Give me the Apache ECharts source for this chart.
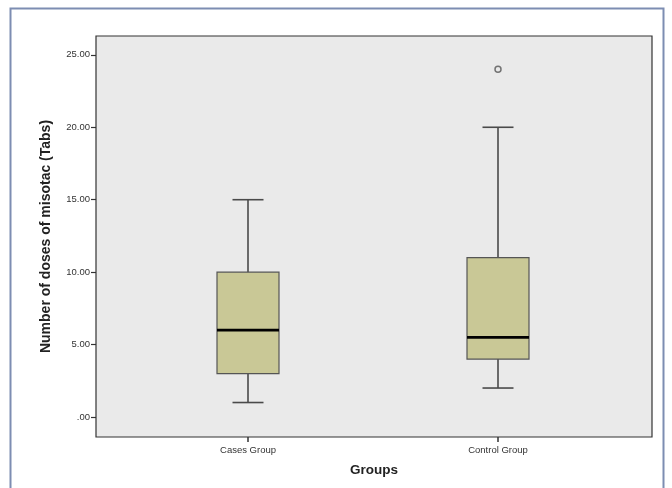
<!DOCTYPE html>
<html>
<head>
<meta charset="utf-8">
<script src="https://cdn.jsdelivr.net/npm/echarts@6/dist/echarts.min.js"></script>
<style>html,body{margin:0;padding:0;background:#fff;}#c{width:672px;height:488px;}</style>
</head>
<body>
<div id="c"></div>
<script>
var categories = ['Cases Group', 'Control Group'];
var whiskerLow = [1, 2];
var q1 = [3, 4];
var median = [6, 5.5];
var q3 = [10, 11];
var whiskerHigh = [15, 20];
var outliers = [[1, 24]];
var yTicks = [0, 5, 10, 15, 20, 25];

var boxData = categories.map(function (c, i) {
  return [i, whiskerLow[i], q1[i], median[i], q3[i], whiskerHigh[i]];
});

var Y_MIN = -1.38, Y_MAX = 26.3;
var FONT = 'Arial, "Liberation Sans", sans-serif';

function renderBox(params, api) {
  var i = api.value(0);
  var band = api.size([1, 0])[0];
  var bw = band * 0.248;
  var cw = bw * 0.5;
  var pLow = api.coord([i, api.value(1)]);
  var pQ1 = api.coord([i, api.value(2)]);
  var pMed = api.coord([i, api.value(3)]);
  var pQ3 = api.coord([i, api.value(4)]);
  var pHigh = api.coord([i, api.value(5)]);
  var x = pQ1[0];
  var lineStyle = { stroke: '#4a4a4a', lineWidth: 1.6 };
  return {
    type: 'group',
    children: [
      { type: 'line', shape: { x1: x, y1: pHigh[1], x2: x, y2: pQ3[1] }, style: lineStyle },
      { type: 'line', shape: { x1: x, y1: pQ1[1], x2: x, y2: pLow[1] }, style: lineStyle },
      { type: 'line', shape: { x1: x - cw / 2, y1: pHigh[1], x2: x + cw / 2, y2: pHigh[1] }, style: lineStyle },
      { type: 'line', shape: { x1: x - cw / 2, y1: pLow[1], x2: x + cw / 2, y2: pLow[1] }, style: lineStyle },
      { type: 'rect', shape: { x: x - bw / 2, y: pQ3[1], width: bw, height: pQ1[1] - pQ3[1] },
        style: { fill: '#c9c896', stroke: '#555', lineWidth: 1.2 } },
      { type: 'line', shape: { x1: x - bw / 2, y1: pMed[1], x2: x + bw / 2, y2: pMed[1] },
        style: { stroke: '#000', lineWidth: 2.6 } }
    ]
  };
}

var chart = echarts.init(document.getElementById('c'), null, { renderer: 'canvas' });
chart.setOption({
  animation: false,
  backgroundColor: '#fff',
  graphic: [
    { type: 'rect', shape: { x: 10.5, y: 8.5, width: 653, height: 490 },
      style: { fill: null, stroke: '#7d8db2', lineWidth: 2 }, z: -10 }
  ],
  grid: [
    { left: 96, right: 20, top: 36, bottom: 51, show: true, backgroundColor: '#eaeaea',
      borderColor: '#333', borderWidth: 1.2 },
    { left: 123, right: 49, top: 36, bottom: 51 }
  ],
  xAxis: [
    { type: 'category', gridIndex: 0, data: categories, show: true,
      axisLine: { show: false, onZero: false }, axisTick: { show: false }, axisLabel: { show: false },
      name: 'Groups', nameLocation: 'middle', nameGap: 26,
      nameTextStyle: { fontFamily: FONT, fontWeight: 'bold', fontSize: 13.5, color: '#222' } },
    { type: 'category', gridIndex: 1, data: categories, position: 'bottom',
      axisLine: { show: false, onZero: false },
      axisTick: { show: true, alignWithLabel: true, length: 5, lineStyle: { color: '#333', width: 1.5 } },
      axisLabel: { fontFamily: FONT, fontSize: 9.5, color: '#333', margin: 8 },
      splitLine: { show: false } }
  ],
  yAxis: [
    { type: 'value', gridIndex: 0, min: Y_MIN, max: Y_MAX,
      axisLine: { show: false },
      axisTick: { show: true, length: 5, customValues: yTicks, lineStyle: { color: '#333', width: 1.2 } },
      axisLabel: { customValues: yTicks, fontFamily: FONT, fontSize: 9.5, color: '#333', margin: 6,
        formatter: function (v) { return v === 0 ? '.00' : v.toFixed(2); } },
      splitLine: { show: false },
      name: 'Number of doses of misotac (Tabs)', nameLocation: 'middle', nameGap: 43, nameRotate: 90,
      nameTextStyle: { fontFamily: FONT, fontWeight: 'bold', fontSize: 14, color: '#222' } },
    { type: 'value', gridIndex: 1, min: Y_MIN, max: Y_MAX, show: false, splitLine: { show: false } }
  ],
  series: [
    { type: 'custom', xAxisIndex: 1, yAxisIndex: 1, data: boxData, renderItem: renderBox,
      encode: { x: 0, y: [1, 2, 3, 4, 5] } },
    { type: 'scatter', xAxisIndex: 1, yAxisIndex: 1, data: outliers, symbol: 'circle', symbolSize: 6,
      itemStyle: { color: '#eaeaea', borderColor: '#555', borderWidth: 1.5 } }
  ]
});
</script>
</body>
</html>
